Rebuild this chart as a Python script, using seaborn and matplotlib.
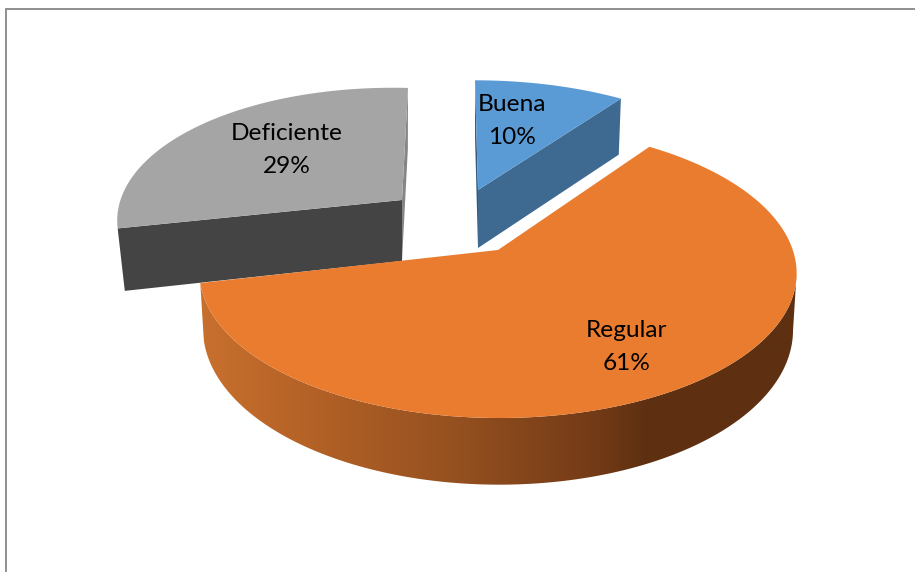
import numpy as np
import matplotlib
matplotlib.use("Agg")
import matplotlib.pyplot as plt
from matplotlib.patches import Polygon
import seaborn as sns

# ---- data ----
categories = ["Buena", "Regular", "Deficiente"]
shares = [10, 61, 29]
top_colors = ["#5B9BD5", "#EA7C30", "#A5A5A5"]
wall_colors = ["#3E6991", "#5E3011", "#444444"]
sliver_colors = ["#35597C", "#5E3011", "#858585"]

# ---- style of the projection (pixels of the figure) ----
W, H = 915, 572
K = 0.175            # perspective
A, B = 294.0, 138.6  # disc radii
# per slice: apex x, apex y, x scale, y scale, skew, lower plane shrink, depth, depth slope,
#            y corrections (back lift, tilt)
placement = {
    "Buena": dict(cx=478, cy=190, sx=0.96, sy=0.93, skew=-3, shrink=0.985, depth=58, slope=-3.4, lift=0, tilt=0),
    "Regular": dict(cx=498, cy=250, sx=1.0, sy=1.0, skew=0, shrink=0.988, depth=55, slope=0, lift=-3.0, tilt=0.76),
    "Deficiente": dict(cx=402, cy=200, sx=0.95, sy=0.95, skew=6, shrink=0.975, depth=61, slope=-1.5, lift=0, tilt=6),
}
label_pos = {"Buena": (512, 121), "Regular": (627, 347), "Deficiente": (287, 150)}

sns.set_theme(style="white")
plt.rcParams["font.family"] = ["Lato", "DejaVu Sans"]
palette = sns.color_palette(top_colors)

fig = plt.figure(figsize=(W / 100, H / 100), dpi=100, facecolor="white")
ax = fig.add_axes([0, 0, 1, 1])
ax.set_xlim(0, W)
ax.set_ylim(H, 0)
ax.axis("off")


def project(theta, name):
    """theta: clockwise from 12 o'clock. Returns top-face and lower-plane points."""
    p = placement[name]
    u, v = np.sin(theta), np.cos(theta)
    d = 1 + K * v
    x = p["cx"] + p["sx"] * A * u / d + p["skew"] * v
    y = p["cy"] - p["sy"] * B * v / d + p["lift"] * (1 + v) + p["tilt"] * u
    xb = p["cx"] + (x - p["cx"]) * p["shrink"]
    if name == "Regular":
        yb = y + p["depth"] / d
    else:
        yb = y + p["depth"] + p["slope"] * u
    return x, y, xb, yb


def shade(x):
    """Side shading of the large slice, running left to right across the figure."""
    stops_x = [200, 300, 450, 600, 645, 800]
    stops_c = np.array([[0xC8, 0x70, 0x2E], [0xB6, 0x63, 0x27], [0x96, 0x51, 0x20],
                        [0x72, 0x3A, 0x16], [0x5E, 0x30, 0x11], [0x5E, 0x30, 0x11]]) / 255
    return np.stack([np.interp(x, stops_x, stops_c[:, i]) for i in range(3)], axis=-1)


edges = 2 * np.pi * np.cumsum([0] + shares) / sum(shares)
slices = {n: (edges[i], edges[i + 1], i) for i, n in enumerate(categories)}

# frame
ax.plot([5.5, 5.5, W], [H, 8.5, 8.5], color="#8F8F8F", lw=1.4, zorder=0, solid_joinstyle="miter")

# slices behind first, big slice last
for name in ["Deficiente", "Buena", "Regular"]:
    t0, t1, i = slices[name]
    p = placement[name]
    cx, cy = p["cx"], p["cy"]
    ts = np.linspace(t0, t1, 480)
    x, y, xb, yb = project(ts, name)
    apex_low = cy + p["depth"]

    if name == "Regular":
        # curved outer side with a horizontal gradient, clipped to the band;
        # the band starts at the rightmost point so its closing edge is the silhouette
        vis = ts >= ts[np.argmax(x)]
        band = np.c_[np.r_[x[vis], xb[vis][::-1]], np.r_[y[vis], yb[vis][::-1]]]
        xs = np.linspace(190, 810, 620)
        im = ax.imshow(shade(xs)[None, :, :], extent=[190, 810, 500, 160], aspect="auto",
                       interpolation="bilinear", zorder=2)
        im.set_clip_path(Polygon(band, closed=True, transform=ax.transData))
        ax.set_xlim(0, W)
        ax.set_ylim(H, 0)
    elif name == "Buena":
        # sliver of the start wall, and radial wall at the far edge
        ax.fill([x[0], xb[0], cx, cx], [y[0], yb[0], apex_low, cy], color=sliver_colors[i], lw=0, zorder=1)
        ax.fill([cx, x[-1], xb[-1], cx], [cy, y[-1], yb[-1], apex_low],
                color=wall_colors[i], lw=0, zorder=1)
    else:
        ax.fill([x[-1], xb[-1], cx, cx], [y[-1], yb[-1], apex_low, cy], color=sliver_colors[i], lw=0, zorder=1)
        ax.fill([cx, x[0], xb[0], cx], [cy, y[0], yb[0], apex_low],
                color=wall_colors[i], lw=0, zorder=1)

    ax.fill(np.r_[cx, x], np.r_[cy, y], color=palette[i], lw=0, zorder=3 if name == "Regular" else 1.5)

# labels
for name, share in zip(categories, shares):
    lx, ly = label_pos[name]
    ax.text(lx, ly, f"{name}\n{share}%", ha="center", va="center", fontsize=17.6,
            color="black", linespacing=1.68, zorder=5)

fig.savefig("out.png", dpi=100)
